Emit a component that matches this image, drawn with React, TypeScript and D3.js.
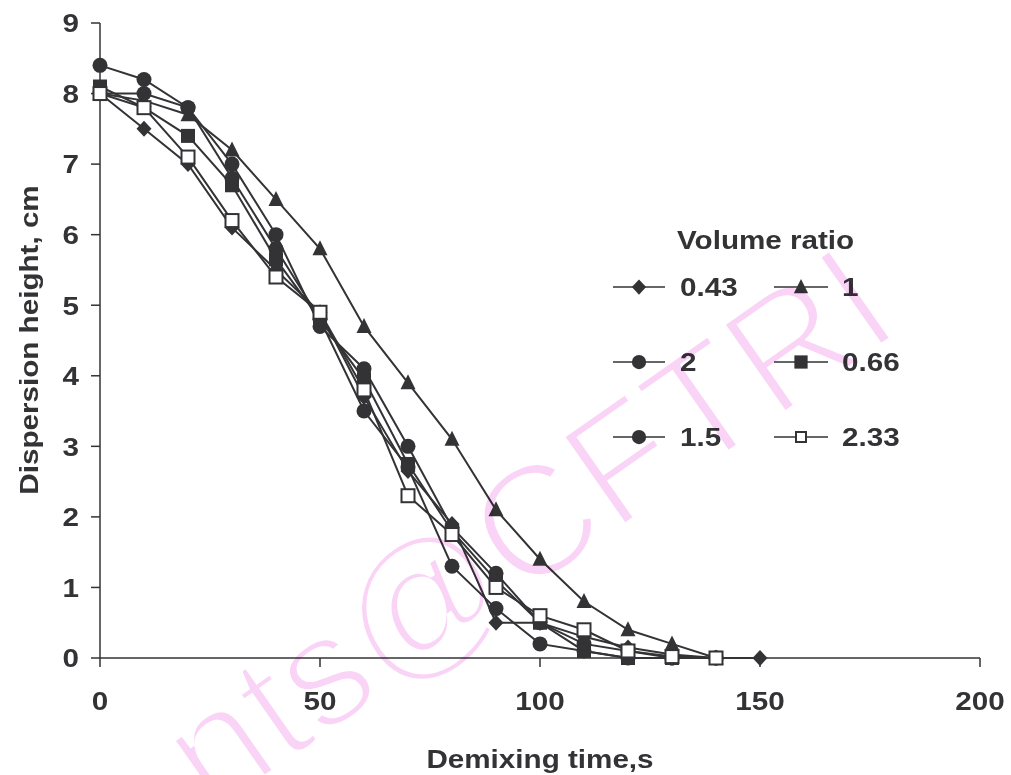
import React from "react";
import * as d3 from "d3";

const times = [0, 10, 20, 30, 40, 50, 60, 70, 80, 90, 100, 110, 120, 130, 140];
const times043 = [0, 10, 20, 30, 40, 50, 60, 70, 80, 90, 100, 110, 120, 130, 140, 150];

const v043 = [8.0, 7.5, 7.0, 6.1, 5.5, 4.9, 3.7, 2.65, 1.9, 0.5, 0.5, 0.3, 0.15, 0.05, 0.0, 0.0];
const v1 = [8.0, 7.9, 7.7, 7.2, 6.5, 5.8, 4.7, 3.9, 3.1, 2.1, 1.4, 0.8, 0.4, 0.2, 0.0];
const v2 = [8.4, 8.2, 7.8, 7.0, 6.0, 4.7, 4.1, 3.0, 1.85, 1.2, 0.5, 0.2, 0.1, 0.0, 0.0];
const v066 = [8.1, 7.8, 7.4, 6.7, 5.65, 4.8, 3.95, 2.75, 1.8, 1.1, 0.5, 0.1, 0.0, 0.0, 0.0];
const v15 = [8.0, 8.0, 7.8, 6.8, 5.8, 4.8, 3.5, 2.7, 1.3, 0.7, 0.2, 0.1, 0.0, 0.0, 0.0];
const v233 = [8.0, 7.8, 7.1, 6.2, 5.4, 4.9, 3.8, 2.3, 1.75, 1.0, 0.6, 0.4, 0.1, 0.02, 0.0];

const xTicks = [0, 50, 100, 150, 200];
const yTicks = [0, 1, 2, 3, 4, 5, 6, 7, 8, 9];

const seriesNames = ["0.43", "1", "2", "0.66", "1.5", "2.33"];
const seriesMarkers = ["diamond", "triangle", "circle", "square", "circle", "openSquare"];
const seriesTimes = [times043, times, times, times, times, times];
const seriesValues = [v043, v1, v2, v066, v15, v233];

const INK = "#333336";
const FONT = "'Liberation Sans', Arial, sans-serif";
const SX = 1.14;

function Marker({ type, x, y, s = 1 }: { type: string; x: number; y: number; s?: number }) {
  const r = 7.5 * s;
  if (type === "diamond") {
    return <path d={`M${x},${y - r - 0.5}L${x + r},${y}L${x},${y + r + 0.5}L${x - r},${y}Z`} fill={INK} />;
  }
  if (type === "triangle") {
    return <path d={`M${x},${y - r - 1}L${x + r},${y + r - 1}L${x - r},${y + r - 1}Z`} fill={INK} />;
  }
  if (type === "circle") {
    return <circle cx={x} cy={y} r={r} fill={INK} />;
  }
  if (type === "square") {
    return <rect x={x - r + 0.5} y={y - r + 0.5} width={2 * r - 1} height={2 * r - 1} fill={INK} />;
  }
  const q = r - 1;
  return <rect x={x - q} y={y - q} width={2 * q} height={2 * q} fill="#fff" stroke={INK} strokeWidth={2} />;
}

function T({
  x,
  y,
  anchor = "start",
  dy,
  size = 26,
  rot = 0,
  sx = SX,
  children,
}: {
  x: number;
  y: number;
  anchor?: string;
  dy?: string;
  size?: number;
  rot?: number;
  sx?: number;
  children: React.ReactNode;
}) {
  return (
    <text
      transform={`translate(${x},${y}) rotate(${rot}) scale(${sx},1)`}
      textAnchor={anchor}
      dy={dy}
      fontSize={size}
      fontWeight="bold"
      fill={INK}
      fontFamily={FONT}
    >
      {children}
    </text>
  );
}

export default function App() {
  const W = 1011;
  const H = 775;
  const x = d3.scaleLinear().domain([0, 200]).range([100, 980]);
  const y = d3.scaleLinear().domain([0, 9]).range([658, 23]);
  const line = d3
    .line<[number, number]>()
    .x((d) => x(d[0]))
    .y((d) => y(d[1]));

  const legendRows = [287, 362, 437];
  const legendCols = [
    { x0: 613, x1: 665, mx: 639, lx: 680 },
    { x0: 774, x1: 828, mx: 801, lx: 842 },
  ];

  return (
    <svg
      width={W}
      height={H}
      style={{ position: "absolute", left: 0, top: 0, background: "#fff" }}
      fontFamily={FONT}
    >
      <rect width={W} height={H} fill="#fff" />
      {/* axes */}
      <line x1={x(0)} x2={x(200)} y1={y(0)} y2={y(0)} stroke={INK} strokeWidth={1.5} />
      <line x1={x(0)} x2={x(0)} y1={y(0)} y2={y(9)} stroke={INK} strokeWidth={1.5} />
      {xTicks.map((t) => (
        <g key={"xt" + t}>
          <line x1={x(t)} x2={x(t)} y1={y(0)} y2={y(0) + 9} stroke={INK} strokeWidth={1.5} />
          <T x={x(t)} y={710} anchor="middle">
            {t}
          </T>
        </g>
      ))}
      {yTicks.map((t) => (
        <g key={"yt" + t}>
          <line x1={x(0) - 9} x2={x(0)} y1={y(t)} y2={y(t)} stroke={INK} strokeWidth={1.5} />
          <T x={79} y={y(t)} dy="0.36em" anchor="end">
            {t}
          </T>
        </g>
      ))}
      <T x={540} y={768} anchor="middle">
        Demixing time,s
      </T>
      <T x={38} y={340} anchor="middle" rot={-90}>
        Dispersion height, cm
      </T>

      {/* series */}
      {seriesValues.map((vals, i) => {
        const pts: [number, number][] = vals.map((v, j) => [seriesTimes[i][j], v]);
        return (
          <g key={"s" + i}>
            <path d={line(pts) || ""} fill="none" stroke={INK} strokeWidth={2} />
            {pts.map((p, j) => (
              <Marker key={j} type={seriesMarkers[i]} x={x(p[0])} y={y(p[1])} />
            ))}
          </g>
        );
      })}

      {/* legend */}
      <T x={677} y={249}>
        Volume ratio
      </T>
      {seriesNames.map((name, i) => {
        const row = Math.floor(i / 2);
        const col = legendCols[i % 2];
        const ly = legendRows[row];
        return (
          <g key={"lg" + i}>
            <line x1={col.x0} x2={col.x1} y1={ly} y2={ly} stroke={INK} strokeWidth={1.5} />
            <Marker type={seriesMarkers[i]} x={col.mx} y={ly} s={seriesMarkers[i] === "openSquare" ? 0.8 : 0.95} />
            <T x={col.lx} y={ly} dy="0.36em">
              {name}
            </T>
          </g>
        );
      })}

      {/* watermark */}
      <g style={{ mixBlendMode: "multiply" }}>
        <text
          transform="translate(905,330) rotate(-35)"
          textAnchor="end"
          fontSize={160}
          fill="#fad4f6"
          stroke="#ffffff"
          strokeWidth={6}
          fontFamily={FONT}
        >
          nts@CFTRI
        </text>
      </g>
    </svg>
  );
}
